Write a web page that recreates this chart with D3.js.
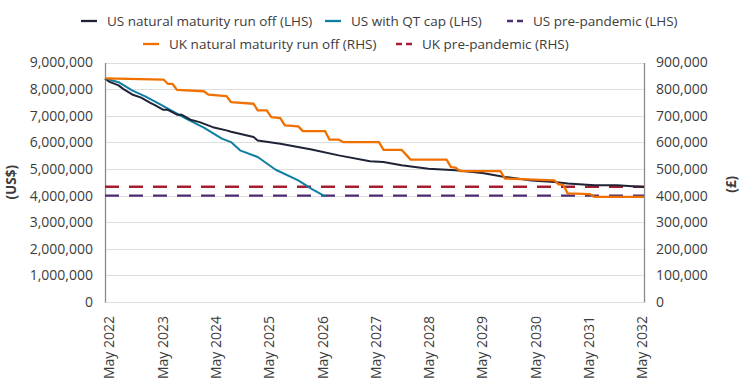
<!DOCTYPE html>
<html><head><meta charset="utf-8">
<script src="https://cdn.jsdelivr.net/npm/d3@7"></script>
<style>
body{margin:0;background:#fff;}
text{font-family:"Open Sans",sans-serif;fill:#3c3c3c;}
</style></head><body>
<svg id="c" width="740" height="382"></svg>
<script>
// month offsets from May 2022
const startYear = 2022, startMonth = 4; // May (0-based)
const xTickLabels = ["May 2022","May 2023","May 2024","May 2025","May 2026","May 2027","May 2028","May 2029","May 2030","May 2031","May 2032"];
const leftTicks = [0,1000000,2000000,3000000,4000000,5000000,6000000,7000000,8000000,9000000];
const rightTicks = [0,100000,200000,300000,400000,500000,600000,700000,800000,900000];

const usNaturalMonths = [0,1,3,4,6,8,10,11,13,14,16,17,19,21,24,27,28,33,34,39,46,52,59,62,66,72,78,84,89,95,100,103,109,114,120];
const usNaturalValues = [8400000,8270000,8140000,8010000,7800000,7680000,7490000,7410000,7220000,7220000,7040000,7040000,6850000,6760000,6570000,6450000,6400000,6200000,6070000,5950000,5730000,5510000,5290000,5260000,5140000,5010000,4950000,4850000,4700000,4570000,4510000,4450000,4390000,4390000,4320000];

const usQtMonths = [0,3,6,9,12,15,18,22,26,28,30,34,38,43,46,49];
const usQtValues = [8400000,8260000,7950000,7720000,7450000,7170000,6890000,6550000,6140000,6010000,5700000,5450000,4970000,4570000,4250000,3970000];

const ukNaturalMonths = [0,13,14,15,16,22,23,27,28,33,34,36,37,39,40,43,44,49,50,52,53,61,62,66,68,76,77,78,79,88,89,100,101,102,103,108,109,120];
const ukNaturalValues = [840000,836000,820000,820000,797000,792000,779000,774000,751000,745000,720000,720000,695000,691000,664000,660000,642000,642000,610000,610000,601000,601000,572000,572000,535000,535000,507000,505000,492000,492000,464000,457000,442000,440000,408000,405000,395000,395000];

const usPrePandemic = 4000000;
const ukPrePandemic = 433000;

const seriesNames = ["US natural maturity run off (LHS)","US with QT cap (LHS)","US pre-pandemic (LHS)","UK natural maturity run off (RHS)","UK pre-pandemic (RHS)"];
const colors = {usNat:"#1e2335", usQt:"#0e7fa0", usPre:"#4f2d74", ukNat:"#f07000", ukPre:"#a51d31"};

const toDate = m => new Date(startYear, startMonth + m, 1);

const svg = d3.select("#c");
const L = 105, R = 644, T = 62.5, B = 302;

const x = d3.scaleTime().domain([toDate(0), toDate(120)]).range([L, R]);
const yL = d3.scaleLinear().domain([0, 9000000]).range([B, T]);
const yR = d3.scaleLinear().domain([0, 900000]).range([B, T]);
const fmt = d3.format(",");

// gridlines
svg.append("g").selectAll("line").data(leftTicks).join("line")
  .attr("x1", L).attr("x2", R).attr("y1", d=>Math.round(yL(d))+0.5).attr("y2", d=>Math.round(yL(d))+0.5)
  .attr("stroke", "#dedede").attr("stroke-width", 1);

// left axis
const gl = svg.append("g").attr("transform", `translate(${L},0)`)
  .call(d3.axisLeft(yL).tickValues(leftTicks).tickFormat(fmt).tickSize(0).tickPadding(12));
gl.select(".domain").attr("stroke", "#8c8c8c").attr("stroke-width",1.3);
gl.selectAll("text").style("font-size","14px").style("font-family","Open Sans").attr("fill","#404040");

// right axis
const gr = svg.append("g").attr("transform", `translate(${R},0)`)
  .call(d3.axisRight(yR).tickValues(rightTicks).tickFormat(fmt).tickSize(0).tickPadding(12));
gr.select(".domain").attr("stroke", "#8c8c8c").attr("stroke-width",1.3);
gr.selectAll("text").style("font-size","14px").style("font-family","Open Sans").attr("fill","#404040");

// x axis
const xTickDates = xTickLabels.map((d,i)=>toDate(i*12));
const gx = svg.append("g").attr("transform", `translate(0,${B})`)
  .call(d3.axisBottom(x).tickValues(xTickDates).tickFormat((d,i)=>xTickLabels[i]).tickSize(0));
gx.select(".domain").remove();
gx.selectAll("text")
  .style("font-size","14px").style("font-family","Open Sans").attr("fill","#404040")
  .attr("transform", (d,i)=>`translate(${4 - i*0.6},0) rotate(-90)`)
  .attr("text-anchor","end").attr("x", -14).attr("y", 0).attr("dy","0.35em");

// axis titles
svg.append("text").attr("transform", `translate(11,${(T+B)/2}) rotate(-90)`)
  .attr("text-anchor","middle").attr("dy","0.35em").style("font-size","13.5px").style("font-weight","bold").text("(US$)");
svg.append("text").attr("transform", `translate(731,${(T+B)/2+2}) rotate(-90)`)
  .attr("text-anchor","middle").attr("dy","0.35em").style("font-size","13.5px").style("font-weight","bold").text("(£)");

// dashed reference lines
svg.append("line").attr("x1",L).attr("x2",R).attr("y1",yR(ukPrePandemic)).attr("y2",yR(ukPrePandemic))
  .attr("stroke",colors.ukPre).attr("stroke-width",2.3).attr("stroke-dasharray","14,10");
svg.append("line").attr("x1",L).attr("x2",R).attr("y1",yL(usPrePandemic)).attr("y2",yL(usPrePandemic))
  .attr("stroke",colors.usPre).attr("stroke-width",2.3).attr("stroke-dasharray","14,10");

function drawLine(months, values, scale, color, w){
  const data = months.map((m,i)=>({d:toDate(m), v:values[i]}));
  svg.append("path").datum(data)
    .attr("fill","none").attr("stroke",color).attr("stroke-width",w).attr("stroke-linejoin","round")
    .attr("d", d3.line().x(p=>x(p.d)).y(p=>scale(p.v)));
}
drawLine(usQtMonths, usQtValues, yL, colors.usQt, 2);
drawLine(usNaturalMonths, usNaturalValues, yL, colors.usNat, 2);
drawLine(ukNaturalMonths, ukNaturalValues, yR, colors.ukNat, 2.3);

// legend
const legendItems = [
  {name:seriesNames[0], color:colors.usNat, dash:false, x:81, y:21},
  {name:seriesNames[1], color:colors.usQt, dash:false, x:325, y:21},
  {name:seriesNames[2], color:colors.usPre, dash:true, x:507, y:21},
  {name:seriesNames[3], color:colors.ukNat, dash:false, x:143, y:44},
  {name:seriesNames[4], color:colors.ukPre, dash:true, x:396, y:44}
];
const lg = svg.append("g");
legendItems.forEach(it=>{
  lg.append("line").attr("x1",it.x).attr("x2",it.x+16).attr("y1",it.y).attr("y2",it.y)
    .attr("stroke",it.color).attr("stroke-width",2.3).attr("stroke-dasharray", it.dash ? "6,4" : null);
  lg.append("text").attr("x",it.x+26).attr("y",it.y).attr("dy","0.35em")
    .style("font-size","13.5px").attr("fill","#404040").text(it.name);
});
</script></body></html>
